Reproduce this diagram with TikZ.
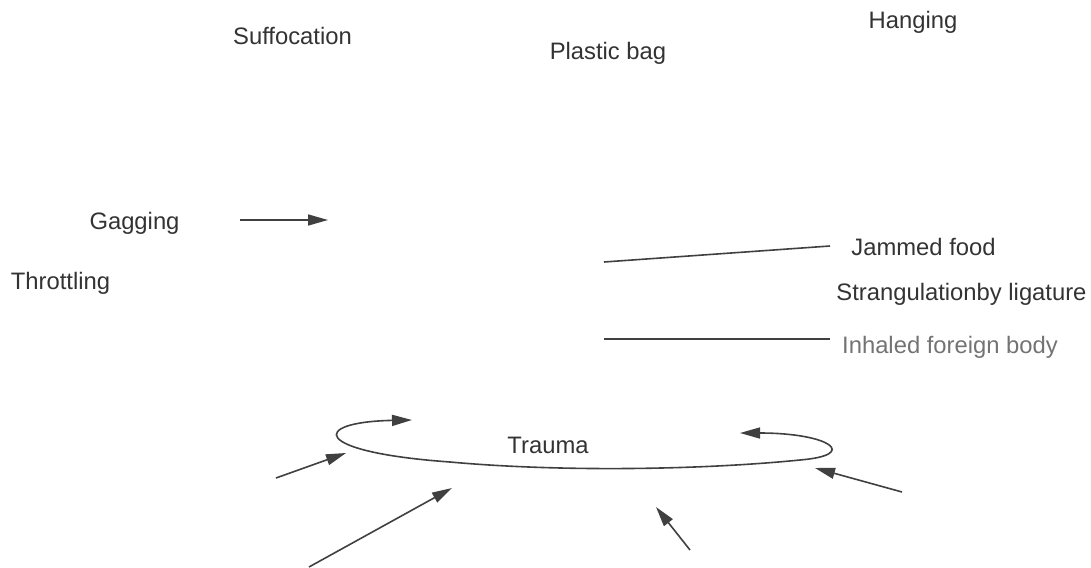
\documentclass[tikz,border=0pt]{standalone}
\usepackage{fontspec}
\setmainfont{Liberation Sans}
\usetikzlibrary{arrows.meta}
\tikzstyle{lbl}=[anchor=base,inner sep=0pt,text=black!80,font=\fontsize{23.8}{28}\selectfont]
\tikzstyle{con}=[draw=black!75,line width=1.6pt]
\tikzstyle{arr}=[con,-{Triangle[length=20pt,width=11pt]}]

\begin{document}
\begin{tikzpicture}[x=1pt,y=-1pt]
\useasboundingbox (0,0) rectangle (1091,567);
% labels
\node[lbl] (suff) at (292.5,45) {Suffocation};
\node[lbl] (bag) at (608,60) {Plastic bag};
\node[lbl] (hang) at (913,29) {Hanging};
\node[lbl] (gag) at (134.5,229) {Gagging};
\node[lbl] (throt) at (60.5,289) {Throttling};
\node[lbl] (jam) at (923.5,255) {Jammed food};
\node[lbl] (strang) at (961.5,300) {Strangulationby ligature};
\node[lbl,text=black!55] (inh) at (950,353) {Inhaled foreign body};
\node[lbl] (trauma) at (548,453) {Trauma};
% ends of the free connectors
\coordinate (g1) at (240,220); \coordinate (g2) at (328,220);
\coordinate (jf1) at (604,262); \coordinate (jf2) at (830,246);
\coordinate (ib1) at (604,339); \coordinate (ib2) at (830,339);
\coordinate (l1) at (412,420); \coordinate (l2) at (740,433);
\coordinate (a1) at (276,478); \coordinate (a2) at (346,453);
\coordinate (b1) at (309,567); \coordinate (b2) at (452,488);
\coordinate (c1) at (902,492); \coordinate (c2) at (815,468);
\coordinate (d1) at (690,550); \coordinate (d2) at (656,507);
% connectors
\draw[arr] (g1) -- (g2);
\draw[con] (jf1) -- (jf2);
\draw[con] (ib1) -- (ib2);
\draw[con,{Triangle[length=20pt,width=11pt]}-{Triangle[length=20pt,width=11pt]}] (l1) .. controls (310,422) and (310,452) .. (450,462) .. controls (560,472) and (700,470) .. (800,460) .. controls (860,455) and (830,433) .. (l2);
\draw[arr] (a1) -- (a2); \draw[arr] (b1) -- (b2); \draw[arr] (c1) -- (c2); \draw[arr] (d1) -- (d2);
\end{tikzpicture}
\end{document}
